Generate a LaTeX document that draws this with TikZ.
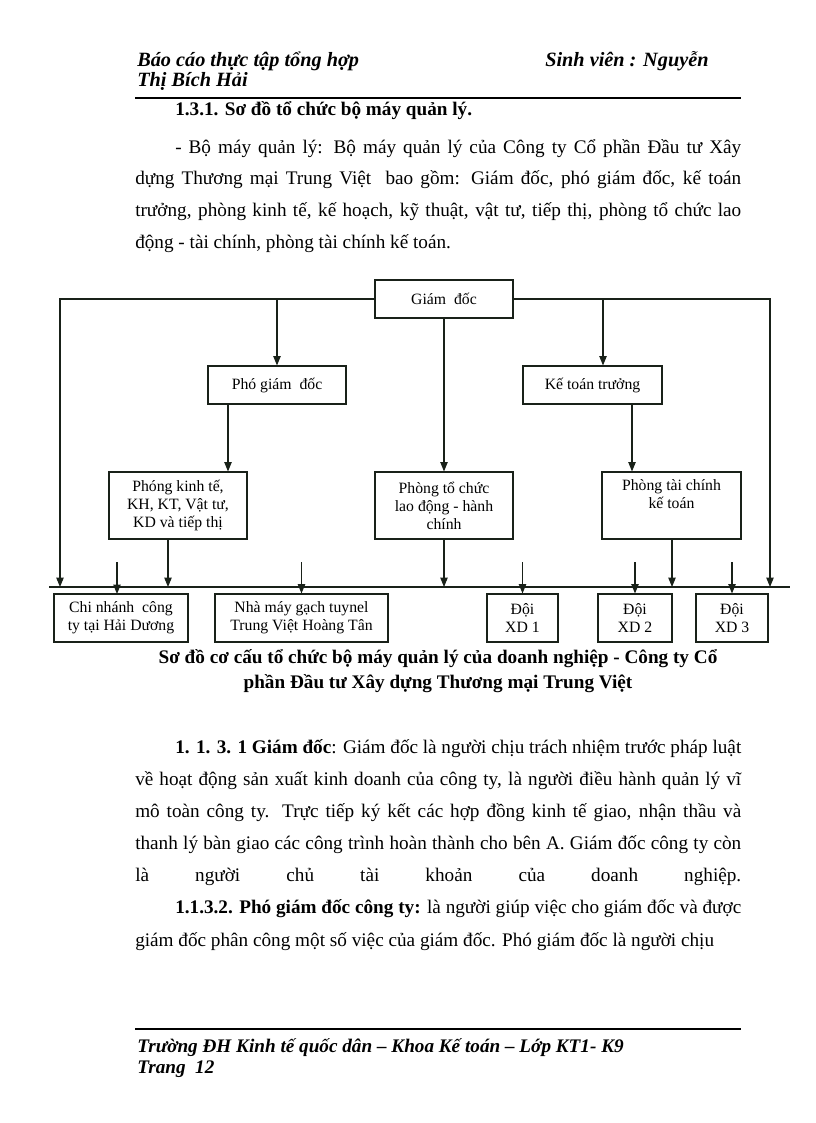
\documentclass[tikz,border=0pt]{standalone}
\usepackage{fontspec}
\setmainfont{Liberation Serif}
\usepackage{tikz}
\usetikzlibrary{arrows.meta}
\definecolor{lincol}{rgb}{0.1, 0.13, 0.1}
\newcommand{\bodyfont}{\fontsize{14.4pt}{16pt}\selectfont}
\newcommand{\headfont}{\fontsize{15.2pt}{17pt}\selectfont\bfseries\itshape}
\newcommand{\footfont}{\fontsize{14.4pt}{16pt}\selectfont\bfseries\itshape}
\newcommand{\boxfont}{\fontsize{11.8pt}{13.5pt}\selectfont}
\newcommand{\jline}[2]{\makebox[#1][s]{#2}}
\tikzstyle{box}=[draw=lincol, line width=0.8pt, rectangle, align=center, inner sep=0pt, font=\boxfont]
\tikzstyle{txt}=[anchor=base west, inner sep=0pt, font=\bodyfont]
\tikzstyle{con}=[lincol, line width=0.8pt, -{Triangle[length=7pt,width=5.5pt]}]
\hbadness=10000

\begin{document}
\begin{tikzpicture}[x=0.75pt, y=-0.75pt]
\useasboundingbox (0,0) rectangle (816,1123);
% header
\node[txt, font=\headfont] (h1) at (137,67) {Báo cáo thực tập tổng hợp};
\node[txt, font=\headfont] (h2) at (545,67) {Sinh viên : Nguyễn};
\node[txt, font=\headfont] (h3) at (137,87) {Thị Bích Hải};
\draw[line width=1.5pt] (135,98) -- (741,98);
\node[txt, font=\bodyfont\bfseries] (s1) at (175,116) {1.3.1. Sơ đồ tổ chức bộ máy quản lý.};
% first paragraph
\node[txt] (p1) at (175,154) {\jline{424.5pt}{- Bộ máy quản lý: Bộ máy quản lý của Công ty Cổ phần Đầu tư Xây}};
\node[txt] (p2) at (135,185) {\jline{454.5pt}{dựng Thương mại Trung Việt\ \ bao gồm: Giám đốc, phó giám đốc, kế toán}};
\node[txt] (p3) at (135,217) {\jline{454.5pt}{trưởng, phòng kinh tế, kế hoạch, kỹ thuật, vật tư, tiếp thị, phòng tổ chức lao}};
\node[txt] (p4) at (135,248) {động - tài chính, phòng tài chính kế toán.};
% boxes
\node[box, minimum width=103.5pt, minimum height=28.5pt] (gd) at (444,299) {Giám\ \ đốc};
\node[box, minimum width=103.5pt, minimum height=28.5pt] (pgd) at (277,385) {Phó giám\ \ đốc};
\node[box, minimum width=104.25pt, minimum height=28.5pt] (ktt) at (592.5,385) {Kế toán trưởng};
\node[box, minimum width=103.5pt, minimum height=50.25pt] (pkt) at (178,505.5) {Phóng kinh tế,\\KH, KT, Vật tư,\\KD và tiếp thị};
\node[box, minimum width=103.5pt, minimum height=50.25pt] (pto) at (444,505.5) {Phòng tổ chức\\lao động - hành\\chính};
\node[box, minimum width=104.25pt, minimum height=50.25pt] (ptc) at (671.5,505.5) {Phòng tài chính\\kế toán\\\strut};
\node[box, minimum width=100.5pt, minimum height=36pt] (cn) at (121,618) {Chi nhánh\ \ công\\ty tại Hải Dương};
\node[box, minimum width=129.75pt, minimum height=36pt] (nm) at (301.5,618) {Nhà máy gạch tuynel\\Trung Việt Hoàng Tân};
\node[box, minimum width=53.25pt, minimum height=36pt] (d1) at (522.5,618) {Đội\\XD 1};
\node[box, minimum width=55.5pt, minimum height=36pt] (d2) at (635,618) {Đội\\XD 2};
\node[box, minimum width=54pt, minimum height=36pt] (d3) at (732,618) {Đội\\XD 3};
% bar and line ends
\coordinate (bl) at (49,587);
\coordinate (br) at (790,587);
\coordinate (lb) at (60,587);
\coordinate (rb) at (770,587);
\coordinate (t1) at (603,299);
\coordinate (a1) at (228,404);
\coordinate (a2) at (632,404);
\coordinate (b1) at (168,539);
\coordinate (b2) at (672,539);
\draw[lincol, line width=0.8pt] (bl) -- (br);
\draw[con] (gd.west) -| (lb);
\draw[con] (gd.east) -| (rb);
\draw[con] (pgd.north |- gd.west) -- (pgd.north);
\draw[con] (t1) -- (t1 |- ktt.north);
\draw[con] (gd.south) -- (pto.north);
\draw[con] (a1) -- (a1 |- pkt.north);
\draw[con] (a2) -- (a2 |- ptc.north);
\draw[con] (b1) -- (b1 |- bl);
\draw[con] (pto.south) -- (pto.south |- bl);
\draw[con] (b2) -- (b2 |- bl);
\draw[con] (117,562) -- (117,594);
\draw[con] (nm.north |- 0,562) -- (nm.north);
\draw[con] (d1.north |- 0,562) -- (d1.north);
\draw[con] (d2.north |- 0,562) -- (d2.north);
\draw[con] (d3.north |- 0,562) -- (d3.north);
% caption
\node[anchor=base, inner sep=0pt, font=\bodyfont\bfseries] (c1) at (438,663) {Sơ đồ cơ cấu tổ chức bộ máy quản lý của doanh nghiệp - Công ty Cổ};
\node[anchor=base, inner sep=0pt, font=\bodyfont\bfseries] (c2) at (438,688) {phần Đầu tư Xây dựng Thương mại Trung Việt};
% second paragraph
\node[txt] (q1) at (175,753) {\jline{424.5pt}{\textbf{1. 1. 3. 1 Giám đốc}: Giám đốc là người chịu trách nhiệm trước pháp luật}};
\node[txt] (q2) at (135,785) {\jline{454.5pt}{về hoạt động sản xuất kinh doanh của công ty, là người điều hành quản lý vĩ}};
\node[txt] (q3) at (135,817) {\jline{454.5pt}{mô toàn công ty. Trực tiếp ký kết các hợp đồng kinh tế giao, nhận thầu và}};
\node[txt] (q4) at (135,849) {\jline{454.5pt}{thanh lý bàn giao các công trình hoàn thành cho bên A. Giám đốc công ty còn}};
\node[txt] (q5) at (135,881) {\jline{454.5pt}{là người chủ tài khoản của doanh nghiệp.}};
\node[txt] (q6) at (175,913) {\jline{424.5pt}{\textbf{1.1.3.2. Phó giám đốc công ty:} là người giúp việc cho giám đốc và được}};
\node[txt] (q7) at (135,946) {giám đốc phân công một số việc của giám đốc. Phó giám đốc là người chịu};
% footer
\draw[line width=1.5pt] (135,1029) -- (741,1029);
\node[txt, font=\footfont] (f1) at (137,1052) {Trường ĐH Kinh tế quốc dân – Khoa Kế toán – Lớp KT1- K9};
\node[txt, font=\footfont] (f2) at (137,1073) {Trang\ \ 12};
\end{tikzpicture}
\end{document}
